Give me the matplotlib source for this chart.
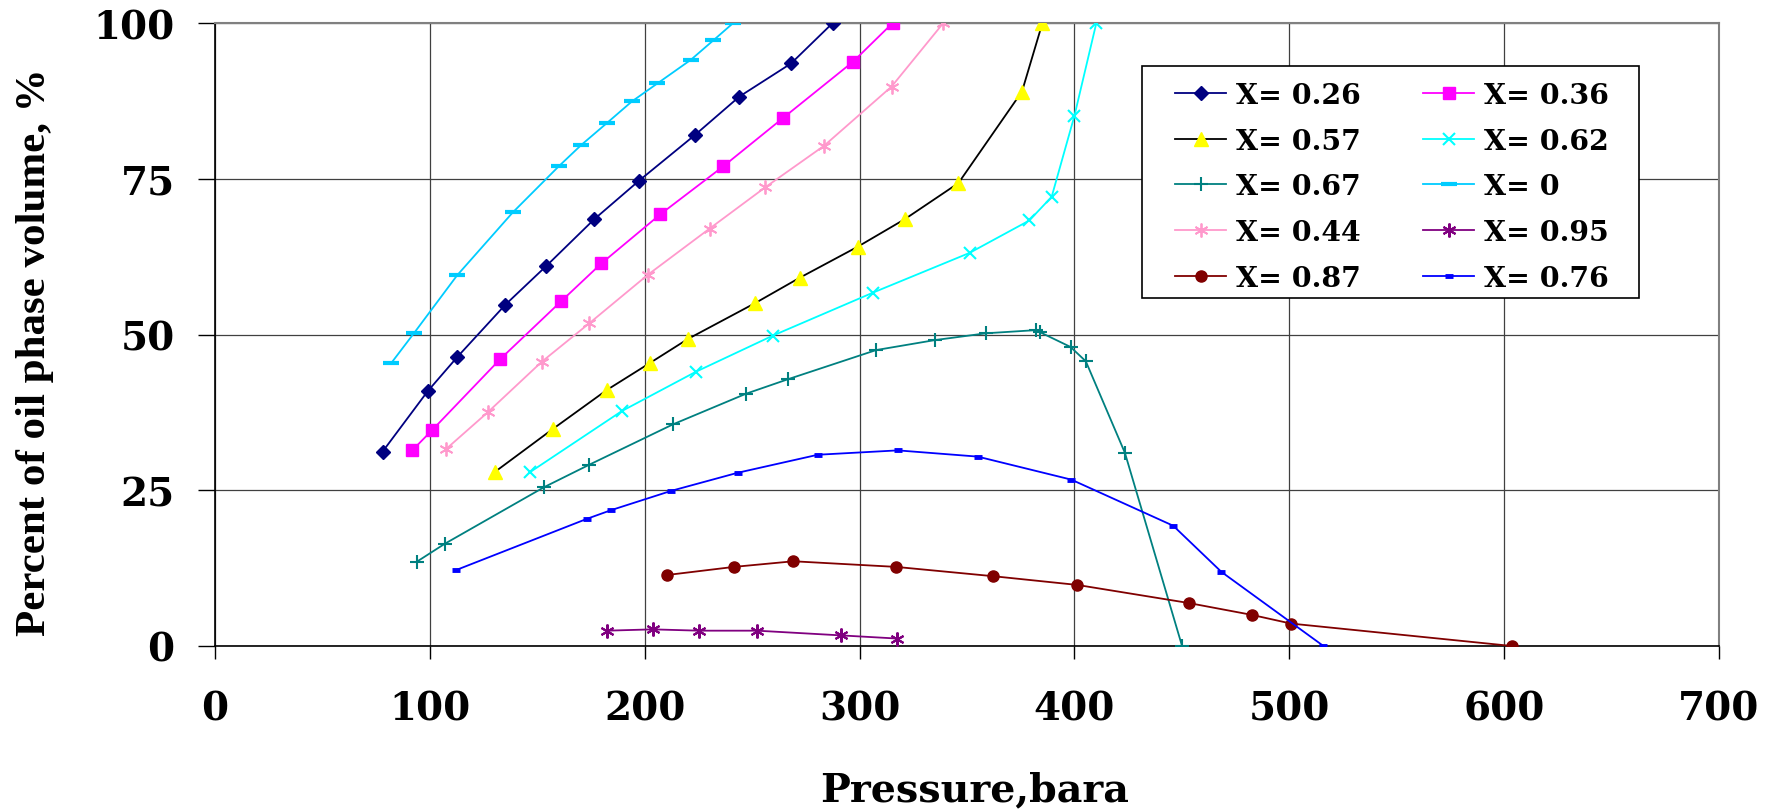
import numpy as np
import matplotlib
matplotlib.use('Agg')
import matplotlib.pyplot as plt
from matplotlib.patches import Rectangle

# data: pressure (bara) vs percent oil phase volume (%)
p_0 = [82, 92.8, 112.7, 138.6, 160, 170.4, 182.6, 194, 205.9, 221.5, 231.9, 241.2]
v_0 = [45.4, 50.3, 59.5, 69.6, 77.0, 80.4, 84.0, 87.4, 90.3, 94.1, 97.2, 100]

p_026 = [78, 99, 112.8, 135.2, 154.2, 176.5, 197.4, 223.3, 244.1, 268.1, 287.5]
v_026 = [31.2, 40.9, 46.4, 54.8, 61.0, 68.5, 74.7, 82.0, 88.2, 93.5, 100]

p_036 = [91.8, 101.2, 132.6, 161, 179.8, 207.3, 236.6, 264.2, 297, 315.4]
v_036 = [31.4, 34.7, 46.0, 55.3, 61.4, 69.3, 77.0, 84.7, 93.8, 100]

p_044 = [107.5, 126.9, 152, 174.2, 201.5, 230.2, 256, 283.5, 314.9, 339]
v_044 = [31.6, 37.5, 45.6, 51.8, 59.6, 67.0, 73.6, 80.3, 89.8, 100]

p_057 = [130.1, 157.1, 182.4, 202.3, 220.2, 251.2, 272.1, 299.2, 321, 346, 375.6, 385.1]
v_057 = [27.9, 34.8, 41.1, 45.4, 49.3, 55.0, 59.1, 64.1, 68.5, 74.3, 89.0, 100]

p_062 = [146.6, 189.3, 223.7, 259.5, 306.1, 351.2, 379, 389.4, 400, 410.2]
v_062 = [27.9, 37.7, 44.0, 49.8, 56.7, 63.1, 68.3, 72.1, 85.1, 100]

p_067 = [93.8, 106.9, 153.2, 174.2, 213.3, 247.2, 266.5, 307.7, 335, 359, 382, 383.8, 398.2, 405.3, 423.5, 450.1]
v_067 = [13.5, 16.4, 25.5, 29.1, 35.6, 40.5, 42.8, 47.5, 49.1, 50.2, 50.7, 50.4, 48.0, 45.7, 31.0, 0]

p_076 = [112.3, 173, 184.3, 212.3, 243.2, 280.6, 317.8, 355, 398.6, 446, 468.4, 515.9]
v_076 = [12.2, 20.4, 21.8, 24.9, 27.8, 30.7, 31.4, 30.4, 26.7, 19.3, 11.9, 0]

p_087 = [210.5, 241.6, 269.2, 316.9, 362.3, 401.4, 453.2, 482.5, 500.8, 603.6]
v_087 = [11.4, 12.7, 13.6, 12.7, 11.2, 9.8, 6.9, 5.0, 3.6, 0]

p_095 = [182.4, 203.7, 225.4, 252.3, 291.5, 317.3]
v_095 = [2.46, 2.67, 2.46, 2.46, 1.7, 1.2]

x_ticks = [0, 100, 200, 300, 400, 500, 600, 700]
y_ticks = [0, 25, 50, 75, 100]

star = (6, 2, 0)   # asterisk like excel's star marker

# (label, x, y, line colour, marker, marker face, marker size, marker edge width)
series = [
    ('X= 0.26', p_026, v_026, '#000080', 'D', '#000080', 7, 1),
    ('X= 0.36', p_036, v_036, '#FF00FF', 's', '#FF00FF', 8, 1),
    ('X= 0.57', p_057, v_057, '#000000', '^', '#FFFF00', 10, 1),
    ('X= 0.62', p_062, v_062, '#00FFFF', 'x', '#00FFFF', 9, 1.5),
    ('X= 0.67', p_067, v_067, '#008080', '+', '#008080', 10, 1.5),
    ('X= 0', p_0, v_0, '#00CCFF', '_', '#00CCFF', 11, 3),
    ('X= 0.44', p_044, v_044, '#FF99CC', star, '#FF99CC', 10, 1.3),
    ('X= 0.95', p_095, v_095, '#800080', star, '#800080', 10, 1.5),
    ('X= 0.87', p_087, v_087, '#800000', 'o', '#800000', 8, 1),
    ('X= 0.76', p_076, v_076, '#0000FF', '_', '#0000FF', 6, 3.5),
]

fig = plt.figure(figsize=(17.71, 8.12), dpi=100)
ax = fig.add_axes([215/1771, 1-647/812, 1504/1771, 623/812])

handles = {}
for lab, x, y, c, m, mf, ms, mew in series:
    h, = ax.plot(x, y, color=c, lw=1.3, marker=m, markersize=ms,
                 markerfacecolor=mf, markeredgecolor=mf, markeredgewidth=mew,
                 label=lab, zorder=3)
    handles[lab] = h

ax.set_xlim(0, 700)
ax.set_ylim(0, 100)
ax.set_xticks(x_ticks)
ax.set_yticks(y_ticks)
ax.grid(True, color='#404040', lw=0.9)
ax.set_axisbelow(True)

for s in ['left', 'bottom']:
    ax.spines[s].set_color('#000000')
    ax.spines[s].set_linewidth(1.2)
for s in ['top', 'right']:
    ax.spines[s].set_color('#808080')
    ax.spines[s].set_linewidth(1.5)

ax.tick_params(axis='x', direction='out', length=9.5, width=1, pad=22, colors='#000000')
ax.tick_params(axis='y', direction='out', length=12, width=1, pad=17, colors='#000000')
for t in ax.get_xticklabels() + ax.get_yticklabels():
    t.set_fontfamily('DejaVu Serif')
    t.set_fontweight('bold')
    t.set_fontsize(28)

fig.text(975/1771, 1-801/812, 'Pressure,bara', ha='center', va='baseline',
         fontfamily='DejaVu Serif', fontweight='bold', fontsize=28.5)
fig.text(35/1771, 1-352/812, 'Percent of oil phase volume, %', ha='center', va='center',
         rotation=90, fontfamily='Liberation Serif', fontweight='bold', fontsize=31)

# legend frame drawn by hand, entries laid out on top of it
ax.add_patch(Rectangle((1142/1771, 1-299/812), 497/1771, 232/812, transform=fig.transFigure,
                       facecolor='white', edgecolor='black', lw=1.2, zorder=4))
order = ['X= 0.26', 'X= 0.57', 'X= 0.67', 'X= 0.44', 'X= 0.87',
         'X= 0.36', 'X= 0.62', 'X= 0', 'X= 0.95', 'X= 0.76']
leg = ax.legend([handles[k] for k in order], order, ncol=2, loc='upper left',
                bbox_to_anchor=(1175/1771, 1-83/812), bbox_transform=fig.transFigure,
                frameon=False, borderpad=0, borderaxespad=0, handlelength=1.8,
                handletextpad=0.35, columnspacing=2.2, labelspacing=0.66,
                prop={'family': 'DejaVu Serif', 'weight': 'bold', 'size': 20.4})
leg.set_zorder(5)

fig.savefig('out.png', dpi=100)
